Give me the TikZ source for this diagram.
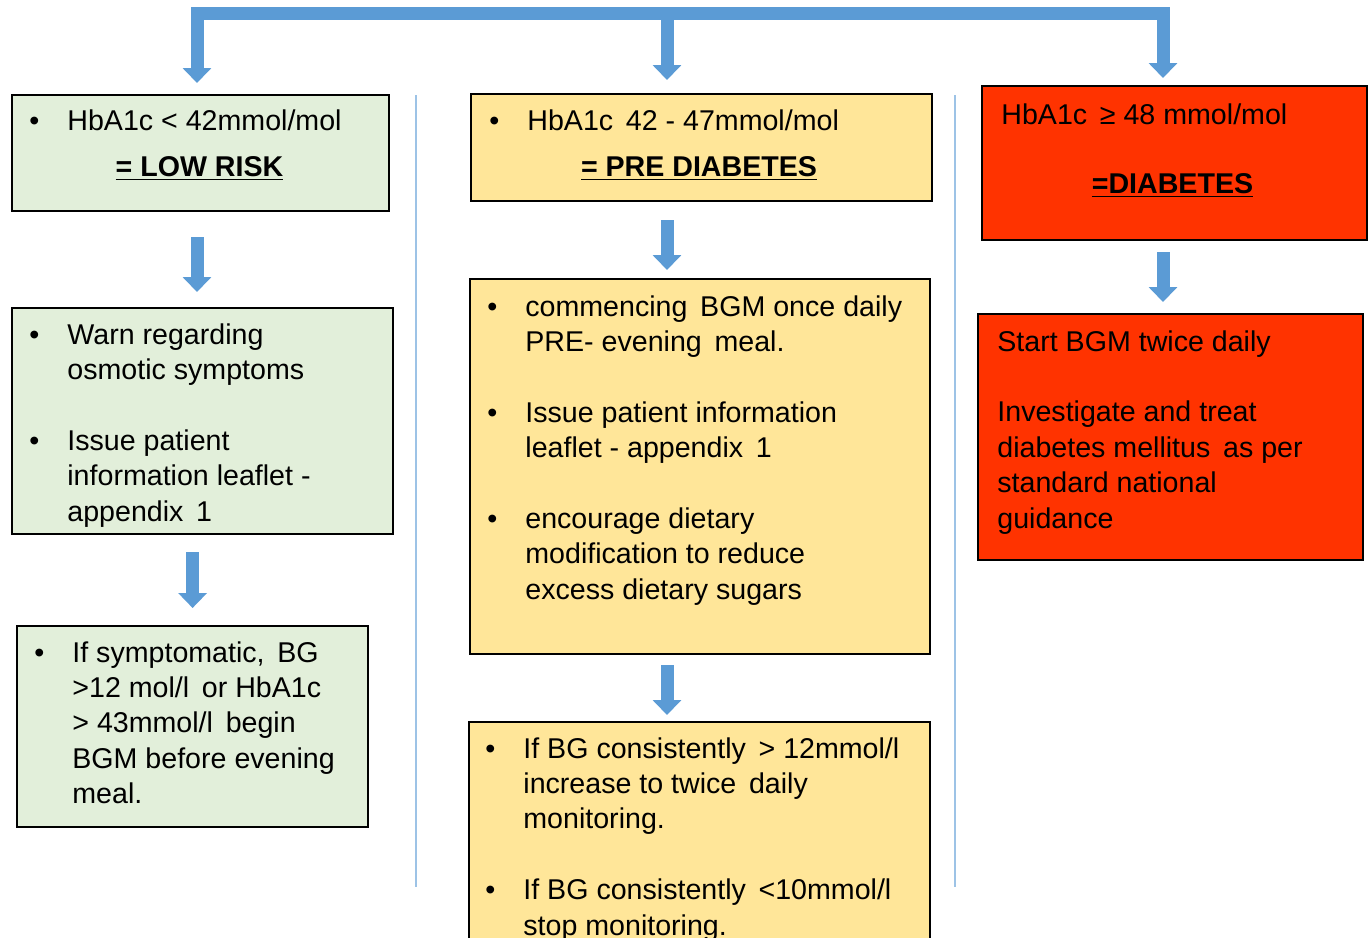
\documentclass[tikz,border=0pt]{standalone}
\usepackage{fontspec}
\setmainfont{Liberation Sans}
\usetikzlibrary{arrows.meta}
\usepackage{xcolor}
\definecolor{riskgreen}{HTML}{E2EFDA}
\definecolor{preyellow}{HTML}{FFE699}
\definecolor{diabred}{HTML}{FF3300}
\definecolor{flowblue}{HTML}{5B9BD5}
\definecolor{splitblue}{HTML}{9DC3E6}
\newcommand{\bodyfont}{\fontsize{14.3}{17.7}\selectfont}
\newcommand{\panetext}[1]{\begin{minipage}[t]{230pt}#1\end{minipage}}
\newcommand{\bul}{\par\noindent\hangindent=19pt\hangafter=1\makebox[19pt][l]{\textbullet}}
\newcommand{\gap}{\par\vspace{\baselineskip}}
\newcommand{\wsp}{\ \,}

\begin{document}
\begin{tikzpicture}[x=0.5pt, y=-0.5pt,
    panel/.style={draw=black, line width=1.1pt, anchor=north west, inner sep=0pt},
    txt/.style={anchor=base west, inner sep=0pt, font=\bodyfont},
    head/.style={anchor=base, inner sep=0pt, font=\bodyfont\bfseries},
    flow/.style={draw=flowblue, line width=6.5pt, -{Triangle[width=14pt, length=7.5pt]}},
    split/.style={draw=splitblue, line width=0.8pt}]
    \useasboundingbox (0,0) rectangle (1369,937);
    \clip (0,0) rectangle (1369,937);

    % Boxes of the three columns
    \node[panel, fill=riskgreen, minimum width=188.5pt, minimum height=58pt] (low) at (11,94) {};
    \node[panel, fill=riskgreen, minimum width=190.5pt, minimum height=113pt] (lowadvice) at (11,307) {};
    \node[panel, fill=riskgreen, minimum width=175.5pt, minimum height=100.5pt] (lowcheck) at (16,625) {};
    \node[panel, fill=preyellow, minimum width=230.5pt, minimum height=53.5pt] (pre) at (470,93) {};
    \node[panel, fill=preyellow, minimum width=230pt, minimum height=187.5pt] (preadvice) at (469,278) {};
    \node[panel, fill=preyellow, minimum width=230.5pt, minimum height=129.5pt] (precheck) at (468,721) {};
    \node[panel, fill=diabred, minimum width=192.5pt, minimum height=77pt] (diab) at (981,85) {};
    \node[panel, fill=diabred, minimum width=192.5pt, minimum height=123pt] (diabadvice) at (977,313) {};

    % Texts
    \node[txt] (lowtxt) at (29,130) {\panetext{\bul HbA1c < 42mmol/mol}};
    \node[head] (lowhead) at (199.5,176) {\underline{= LOW RISK}};
    \node[txt] (lowadvicetxt) at (29,344) {\panetext{\bul Warn regarding\\ osmotic symptoms\gap\bul Issue patient\\ information leaflet -\\ appendix\wsp 1}};
    \node[txt] (lowchecktxt) at (34,662) {\panetext{\bul If symptomatic,\wsp BG\\ >12 mol/l\wsp or HbA1c\\ > 43mmol/l\wsp begin\\ BGM before evening\\ meal.}};
    \node[txt] (pretxt) at (489,130) {\panetext{\bul HbA1c\wsp 42 - 47mmol/mol}};
    \node[head] (prehead) at (699,176) {\underline{= PRE DIABETES}};
    \node[txt] (preadvicetxt) at (487,316) {\panetext{\bul commencing\wsp BGM once daily\\ PRE- evening\wsp meal.\gap\bul Issue patient information\\ leaflet - appendix\wsp 1\gap\bul encourage dietary\\ modification to reduce\\ excess dietary sugars}};
    \node[txt] (prechecktxt) at (485,758) {\panetext{\bul If BG consistently\wsp > 12mmol/l\\ increase to twice\wsp daily\\ monitoring.\gap\bul If BG consistently\wsp <10mmol/l\\ stop monitoring.}};
    \node[txt] (diabtxt) at (1001,124) {HbA1c\wsp ≥ 48 mmol/mol};
    \node[head] (diabhead) at (1172.5,193) {\underline{=DIABETES}};
    \node[txt] (diabadvicetxt) at (997,351) {\panetext{Start BGM twice daily\gap Investigate and treat\\ diabetes mellitus\wsp as per\\ standard national\\ guidance}};

    % Column dividers
    \draw[split] (416,95) -- (416,887);
    \draw[split] (955,95) -- (955,887);

    % Top bus with its three drops
    \coordinate (colL) at (197,0);
    \coordinate (colM) at (667,0);
    \coordinate (colR) at (1163,0);
    \coordinate (bus) at (0,13.5);
    \draw[flow, {Triangle[width=14pt, length=7.5pt]}-{Triangle[width=14pt, length=7.5pt]}, shorten <=5.5pt, shorten >=3.5pt]
        (low.north -| colL) -- (colL |- bus) -- (colR |- bus) -- (diab.north -| colR);
    \draw[flow, shorten >=6.5pt] (colM |- bus) -- (pre.north -| colM);

    % Arrows down each column
    \draw[flow, shorten <=12.5pt, shorten >=7.5pt] (low.south -| colL) -- (lowadvice.north -| colL);
    \draw[flow, shorten <=8.5pt, shorten >=8.5pt] (lowadvice.south -| lowcheck.north) -- (lowcheck.north);
    \draw[flow, shorten <=9pt, shorten >=4pt] (pre.south -| colM) -- (preadvice.north -| colM);
    \draw[flow, shorten <=5pt, shorten >=3pt] (preadvice.south -| colM) -- (precheck.north -| colM);
    \draw[flow, shorten <=5.5pt, shorten >=5.5pt] (diab.south -| colR) -- (diabadvice.north -| colR);
\end{tikzpicture}
\end{document}
